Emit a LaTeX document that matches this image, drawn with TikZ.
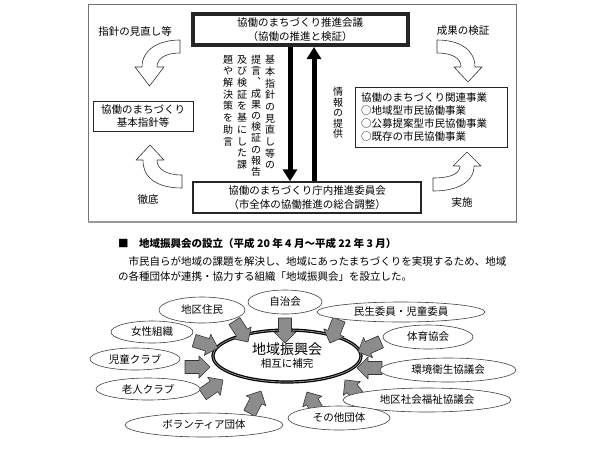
\documentclass[tikz,border=0pt]{standalone}
\usepackage{fontspec}
\setmainfont{Noto Sans CJK JP}
\usetikzlibrary{shapes.geometric,arrows.meta,calc}

\newcommand\jsize[2]{\fontsize{#1}{#2}\selectfont}

\tikzset{yajirushi/.pic={
  \draw[fill=black!45,draw=black!80,line width=0.6pt,line join=round]
    (0,0) -- (-11,-11) -- (-11,-6.5) -- (-25,-6.5) -- (-25,6.5) -- (-11,6.5) -- (-11,11) -- cycle;
}}

\begin{document}
\begin{tikzpicture}[x=1pt,y=-1pt,
  waku/.style={draw=black!85,fill=white,align=center,inner sep=0pt,font=\jsize{10.5}{13.3}},
  tate/.style={anchor=north,align=center,inner sep=0pt,font=\jsize{10}{11.7}},
  moji/.style={inner sep=0pt,font=\jsize{10.5}{12}},
  magari/.style={draw=black!80,fill=white,line width=0.6pt,line join=round},
  futoya/.style={line width=5pt,-{Triangle[width=14pt,length=12pt]}},
  dantai/.style={ellipse,draw=black!75,fill=white,inner sep=0pt,line width=0.6pt,font=\jsize{10.5}{12}}]
\useasboundingbox (0,0) rectangle (600,459);

% upper frame
\draw[black!55,line width=0.8pt] (88,4) rectangle (516,222);
\draw[black!40,line width=2.5pt] (88,222) -- (516,222);

\node[waku,line width=3pt,minimum width=216pt,minimum height=32pt] (suishin) at (300,29.5)
  {協働のまちづくり推進会議\\（協働の推進と検証）};
\draw[black!85,line width=0.6pt] ($(suishin.north west)+(3.5,3.5)$) rectangle ($(suishin.south east)+(-3.5,-3.5)$);
\node[waku,line width=1.4pt,minimum width=228pt,minimum height=31pt] (chonai) at (307,197.5)
  {協働のまちづくり庁内推進委員会\\（市全体の協働推進の総合調整）};
\node[waku,line width=0.6pt,minimum width=100pt,minimum height=30pt] (kihon) at (143,116)
  {協働のまちづくり\\基本指針等};
\node[waku,line width=0.6pt,align=left,text width=140pt,minimum width=152pt,minimum height=60pt] (jigyo) at (431,117)
  {協働のまちづくり関連事業\\○地域型市民協働事業\\○公募提案型市民協働事業\\○既存の市民協働事業};

\draw[futoya] ([xshift=-10pt]suishin.south) -- ([xshift=-17pt]chonai.north);
\draw[futoya] ([xshift=7pt]chonai.north) -- ([xshift=14pt]suishin.south);

% vertical texts
\node[tate] (teigen1) at (270,55) {基\\本\\指\\針\\の\\見\\直\\し\\等\\の};
\node[tate,font=\jsize{10}{11.2}] (teigen2) at (256,55) {提\\言\\︑\\成\\果\\の\\検\\証\\の\\報\\告};
\node[tate] (teigen3) at (242,55) {及\\び\\検\\証\\を\\基\\に\\し\\た\\課};
\node[tate] (teigen4) at (228,55) {題\\や\\解\\決\\策\\を\\助\\言};
\node[tate,font=\jsize{10}{10.5}] (joho) at (338,87) {情\\報\\の\\提\\供};

% bent arrows
\draw[magari] (180,40) .. controls (158,40) and (142,50) .. (142,67) -- (135,67) -- (149.5,86)
  -- (164,67) -- (157,67) .. controls (157,58) and (166,53) .. (180,53) -- cycle;
\draw[magari] (437,40) .. controls (460,40) and (475,50) .. (475,67) -- (482,67) -- (468,82)
  -- (454,67) -- (461,67) .. controls (461,58) and (452,53) .. (437,53) -- cycle;
\draw[magari] (182,188) .. controls (160,188) and (143,180) .. (143,160) -- (136,160) -- (150,145)
  -- (164,160) -- (157,160) .. controls (157,169) and (166,175) .. (182,175) -- cycle;
\draw[magari] (433,191) .. controls (456,191) and (474,183) .. (474,166) -- (481,166) -- (467,152)
  -- (453,166) -- (460,166) .. controls (460,173) and (452,178) .. (433,178) -- cycle;

\node[moji] (minaoshi) at (135,31) {指針の見直し等};
\node[moji] (kensho) at (463,31) {成果の検証};
\node[moji] (tettei) at (148,200) {徹底};
\node[moji] (jisshi) at (462,203) {実施};

% text below the frame
\node[moji,anchor=base west,font=\jsize{10.5}{12}\bfseries] (midashi) at (118,247)
  {■　地域振興会の設立（平成 20 年 4 月～平成 22 年 3 月）};
\node[moji,anchor=base west] (honbun1) at (118,265)
  {　市民自らが地域の課題を解決し、地域にあったまちづくりを実現するため、地域};
\node[moji,anchor=base west] (honbun2) at (118,280)
  {の各種団体が連携・協力する組織「地域振興会」を設立した。};

% groups round the hub
\node[ellipse,draw=black,line width=1.2pt,double=black!45,double distance=0.8pt,fill=white,
  minimum width=148pt,minimum height=52pt,inner sep=0pt,align=center] (hub) at (287,356)
  {{\jsize{14}{16}地域振興会}\\[1pt]{\jsize{10.5}{12}相互に補完}};

\foreach \dx/\dy/\ang in {%
  -39/-14/-57, -69/-8/-17, -77/11/0, -64/24/35, -26/35/63, -2/-13/-90,
  43/-13/-111, 71/-4/-156, 70/12/180, 58/24/129, 20/36/119} {
  \pic[rotate=\ang] at ($(hub)+(\dx,\dy)$) {yajirushi};
}

\foreach \nm/\cx/\cy/\rw/\rh/\txt in {%
  jumin/202/310/86/26/地区住民,
  jichi/285/302/74/24/自治会,
  josei/152/332/82/22/女性組織,
  jido/135/359/90/22/児童クラブ,
  rojin/148/389/104/22/老人クラブ,
  volun/204/425/158/24/ボランティア団体,
  minsei/401/312/168/20/民生委員・児童委員,
  taiiku/428/337/90/24/体育協会,
  kankyo/448/370/136/24/環境衛生協議会,
  shakyo/427/400/168/24/地区社会福祉協議会,
  sonota/339/418/102/24/その他団体} {
  \node[dantai,minimum width=\rw pt,minimum height=\rh pt] (\nm) at (\cx,\cy) {\txt};
}
\end{tikzpicture}
\end{document}
